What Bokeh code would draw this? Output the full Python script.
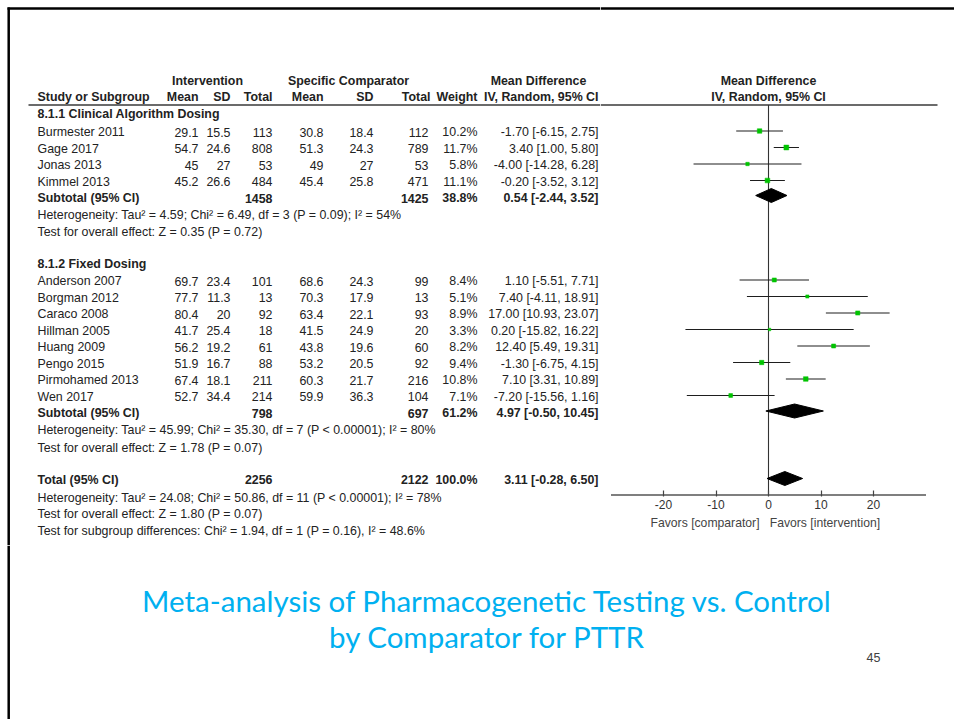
import math
from bokeh.plotting import figure
from bokeh.models import (Range1d, LinearAxis, FixedTicker, ColumnDataSource, Title,
                          CustomJSTickFormatter)
from bokeh.layouts import row, column
from bokeh.embed import file_html
from bokeh.resources import INLINE
from bokeh.core.properties import value

# ---------------- data ----------------
group1_title = "8.1.1 Clinical Algorithm Dosing"
studies1 = ["Burmester 2011", "Gage 2017", "Jonas 2013", "Kimmel 2013"]
int_mean1 = [29.1, 54.7, 45, 45.2]
int_sd1 = [15.5, 24.6, 27, 26.6]
int_n1 = [113, 808, 53, 484]
cmp_mean1 = [30.8, 51.3, 49, 45.4]
cmp_sd1 = [18.4, 24.3, 27, 25.8]
cmp_n1 = [112, 789, 53, 471]
weight1 = [10.2, 11.7, 5.8, 11.1]
md1 = [-1.70, 3.40, -4.00, -0.20]
lo1 = [-6.15, 1.00, -14.28, -3.52]
hi1 = [2.75, 5.80, 6.28, 3.12]
sub1 = dict(int_n=1458, cmp_n=1425, weight=38.8, md=0.54, lo=-2.44, hi=3.52)
het1 = "Heterogeneity: Tau\u00b2 = 4.59; Chi\u00b2 = 6.49, df = 3 (P = 0.09); I\u00b2 = 54%"
test1 = "Test for overall effect: Z = 0.35 (P = 0.72)"

group2_title = "8.1.2 Fixed Dosing"
studies2 = ["Anderson 2007", "Borgman 2012", "Caraco 2008", "Hillman 2005",
            "Huang 2009", "Pengo 2015", "Pirmohamed 2013", "Wen 2017"]
int_mean2 = [69.7, 77.7, 80.4, 41.7, 56.2, 51.9, 67.4, 52.7]
int_sd2 = [23.4, 11.3, 20, 25.4, 19.2, 16.7, 18.1, 34.4]
int_n2 = [101, 13, 92, 18, 61, 88, 211, 214]
cmp_mean2 = [68.6, 70.3, 63.4, 41.5, 43.8, 53.2, 60.3, 59.9]
cmp_sd2 = [24.3, 17.9, 22.1, 24.9, 19.6, 20.5, 21.7, 36.3]
cmp_n2 = [99, 13, 93, 20, 60, 92, 216, 104]
weight2 = [8.4, 5.1, 8.9, 3.3, 8.2, 9.4, 10.8, 7.1]
md2 = [1.10, 7.40, 17.00, 0.20, 12.40, -1.30, 7.10, -7.20]
lo2 = [-5.51, -4.11, 10.93, -15.82, 5.49, -6.75, 3.31, -15.56]
hi2 = [7.71, 18.91, 23.07, 16.22, 19.31, 4.15, 10.89, 1.16]
sub2 = dict(int_n=798, cmp_n=697, weight=61.2, md=4.97, lo=-0.50, hi=10.45)
het2 = "Heterogeneity: Tau\u00b2 = 45.99; Chi\u00b2 = 35.30, df = 7 (P < 0.00001); I\u00b2 = 80%"
test2 = "Test for overall effect: Z = 1.78 (P = 0.07)"

total = dict(int_n=2256, cmp_n=2122, weight=100.0, md=3.11, lo=-0.28, hi=6.50)
het_t = "Heterogeneity: Tau\u00b2 = 24.08; Chi\u00b2 = 50.86, df = 11 (P < 0.00001); I\u00b2 = 78%"
test_t = "Test for overall effect: Z = 1.80 (P = 0.07)"
test_sub = "Test for subgroup differences: Chi\u00b2 = 1.94, df = 1 (P = 0.16), I\u00b2 = 48.6%"

axis_ticks = [-20, -10, 0, 10, 20]
axis_min, axis_max = -30, 30
favors_left = "Favors [comparator]"
favors_right = "Favors [intervention]"
title_lines = ["Meta-analysis of Pharmacogenetic Testing vs. Control", "by Comparator for PTTR"]
page_number = "45"

# ---------------- style / layout ----------------
FONT = "Liberation Sans"
TXT = "#222222"
FS = "12.4px"
GREEN = "#00c400"
BLUE = "#00b0f0"

W, H = 954, 719
SPLIT_X = 600          # table | forest
SPLIT_Y = 545          # top | bottom
AXIS_Y = 496           # forest frame bottom

ROW_STEP = 16.5
G1_Y0 = 130.5
G2_Y0 = 279.5
TOTAL_Y = 478
TDY = 1.0

COL_STUDY = 37
COL_IM, COL_ISD, COL_IN = 198, 230, 272
COL_CM, COL_CSD, COL_CN = 323, 373, 428
COL_W, COL_CI = 477, 598

ZERO_PX = 768.0
PX_PER_UNIT = 5.25


def fmt(v):
    return f"{v:g}"


def ci(m, l, h):
    return f"{m:.2f} [{l:.2f}, {h:.2f}]"


def base_fig(w, h, xr, yr, mb=0):
    p = figure(width=w, height=h, x_range=xr, y_range=yr, x_axis_type=None, y_axis_type=None,
               output_backend="svg", toolbar_location=None, min_border=0,
               min_border_left=0, min_border_right=0, min_border_top=0,
               min_border_bottom=mb, frame_align=False)
    p.grid.visible = False
    p.outline_line_color = None
    return p


def add_text(p, xs, ys, texts, align, bold=False, size=FS, color=TXT, font=FONT, rn=None):
    src = ColumnDataSource(dict(x=list(xs), y=list(ys), text=list(texts)))
    kw = {"x_range_name": rn} if rn else {}
    p.text(x="x", y="y", text="text", source=src, text_align=align, text_baseline="middle",
           text_font=value(font), text_font_size=value(size),
           text_font_style="bold" if bold else "normal", text_color=color, **kw)


g1_y = [G1_Y0 + i * ROW_STEP for i in range(len(studies1))]
sub1_y = G1_Y0 + len(studies1) * ROW_STEP
g2_y = [G2_Y0 + i * ROW_STEP for i in range(len(studies2))]
sub2_y = G2_Y0 + len(studies2) * ROW_STEP

BORDER_W = 2.5
BORDER_X = 8.2
BORDER_Y = 7.9

# ---------------- table figure ----------------
tab = base_fig(SPLIT_X, SPLIT_Y, Range1d(0, SPLIT_X), Range1d(SPLIT_Y, 0))
tab.segment(x0=[BORDER_X, 7], x1=[BORDER_X, SPLIT_X], y0=[7, BORDER_Y], y1=[SPLIT_Y, BORDER_Y],
            line_color="black", line_width=BORDER_W)
tab.segment(x0=[28], x1=[SPLIT_X], y0=[104.5], y1=[104.5], line_color="#3a3a3a", line_width=1.3)

add_text(tab, [207, 348, 538], [80] * 3, ["Intervention", "Specific Comparator", "Mean Difference"], "center", bold=True)
add_text(tab, [COL_STUDY], [96], ["Study or Subgroup"], "left", bold=True)
add_text(tab, [COL_IM, COL_ISD, COL_IN, COL_CM, COL_CSD, COL_CN + 2, COL_W, COL_CI], [96] * 8,
         ["Mean", "SD", "Total", "Mean", "SD", "Total", "Weight", "IV, Random, 95% CI"], "right", bold=True)


def group_rows(title, title_y, names, ys, im, isd, inn, cm, csd, cn, w, m, l, h, sub, sub_y, het, test, het_y):
    add_text(tab, [COL_STUDY], [title_y], [title], "left", bold=True)
    ty = [y + TDY for y in ys]
    add_text(tab, [COL_STUDY] * len(names), ty, names, "left")
    for col, vals in [(COL_IM, im), (COL_ISD, isd), (COL_IN, inn), (COL_CM, cm), (COL_CSD, csd), (COL_CN, cn)]:
        add_text(tab, [col] * len(vals), ty, [fmt(v) for v in vals], "right")
    add_text(tab, [COL_W] * len(w), ty, [f"{v:.1f}%" for v in w], "right")
    add_text(tab, [COL_CI] * len(m), ty, [ci(a, b, c) for a, b, c in zip(m, l, h)], "right")
    sy = sub_y + TDY
    add_text(tab, [COL_STUDY], [sy], ["Subtotal (95% CI)"], "left", bold=True)
    add_text(tab, [COL_IN, COL_CN, COL_W, COL_CI], [sy] * 4,
             [str(sub["int_n"]), str(sub["cmp_n"]), f"{sub['weight']:.1f}%", ci(sub["md"], sub["lo"], sub["hi"])],
             "right", bold=True)
    add_text(tab, [COL_STUDY, COL_STUDY], het_y, [het, test], "left")


group_rows(group1_title, 113, studies1, g1_y, int_mean1, int_sd1, int_n1, cmp_mean1, cmp_sd1, cmp_n1,
           weight1, md1, lo1, hi1, sub1, sub1_y, het1, test1, [214, 231])
group_rows(group2_title, 263, studies2, g2_y, int_mean2, int_sd2, int_n2, cmp_mean2, cmp_sd2, cmp_n2,
           weight2, md2, lo2, hi2, sub2, sub2_y, het2, test2, [429.5, 447])

add_text(tab, [COL_STUDY], [TOTAL_Y + TDY], ["Total (95% CI)"], "left", bold=True)
add_text(tab, [COL_IN, COL_CN, COL_W, COL_CI], [TOTAL_Y + TDY] * 4,
         [str(total["int_n"]), str(total["cmp_n"]), f"{total['weight']:.1f}%", ci(total["md"], total["lo"], total["hi"])],
         "right", bold=True)
add_text(tab, [COL_STUDY] * 3, [497, 513.5, 530], [het_t, test_t, test_sub], "left")

# ---------------- forest figure ----------------
fp = base_fig(W - SPLIT_X, SPLIT_Y, Range1d(SPLIT_X, W), Range1d(AXIS_Y, 0), mb=SPLIT_Y - AXIS_Y)
fp.extra_x_ranges = {"md": Range1d((SPLIT_X - ZERO_PX) / PX_PER_UNIT, (W - ZERO_PX) / PX_PER_UNIT)}
fp.segment(x0=[SPLIT_X], x1=[W], y0=[BORDER_Y], y1=[BORDER_Y], line_color="black", line_width=BORDER_W)
fp.segment(x0=[SPLIT_X], x1=[937], y0=[104.5], y1=[104.5], line_color="#3a3a3a", line_width=1.3)
add_text(fp, [0, 0], [80, 96], ["Mean Difference", "IV, Random, 95% CI"], "center", bold=True, rn="md")

fp.segment(x0=[0], x1=[0], y0=[104.5], y1=[494.5], x_range_name="md", line_color="#333333", line_width=1.1)
fp.segment(x0=[axis_min], x1=[axis_max], y0=[494.5], y1=[494.5], x_range_name="md",
           line_color="#555555", line_width=1.5)

all_y = g1_y + g2_y
all_w = weight1 + weight2
fsrc = ColumnDataSource(dict(md=md1 + md2, lo=lo1 + lo2, hi=hi1 + hi2, y=all_y,
                             size=[1.42 * math.sqrt(w) for w in all_w]))
fp.segment(x0="lo", x1="hi", y0="y", y1="y", source=fsrc, x_range_name="md", line_color="#1e1e1e", line_width=1.1)
fp.scatter(x="md", y="y", size="size", marker="square", source=fsrc, x_range_name="md",
           fill_color=GREEN, line_color=GREEN, line_width=0.5)

dia = [sub1, sub2, total]
dia_y = [sub1_y - 1.5, sub2_y - 1.0, TOTAL_Y]
HALF = 7
fp.patches(xs=[[d["lo"], d["md"], d["hi"], d["md"]] for d in dia],
           ys=[[y, y - HALF, y, y + HALF] for y in dia_y],
           x_range_name="md", fill_color="black", line_color="black", line_width=1)

ax = LinearAxis(x_range_name="md", ticker=FixedTicker(ticks=axis_ticks),
                formatter=CustomJSTickFormatter(code="return tick.toString()"))
ax.axis_line_color = None
ax.major_tick_line_color = "#444444"
ax.major_tick_line_width = 1.2
ax.major_tick_in = 6
ax.major_tick_out = 0
ax.minor_tick_line_color = None
ax.major_label_text_font = FONT
ax.major_label_text_font_size = "12px"
ax.major_label_text_color = "#333333"
ax.major_label_standoff = 3
fp.add_layout(ax, "below")

fav = Title(text=favors_left + "\u00a0\u00a0\u00a0" + favors_right, align="left", offset=650 - SPLIT_X,
            text_font=FONT, text_font_size="12.2px", text_font_style="normal", text_color="#444444",
            standoff=5)
fp.add_layout(fav, "below")

# ---------------- bottom figure ----------------
bt = base_fig(W, H - SPLIT_Y, Range1d(0, W), Range1d(H, SPLIT_Y))
bt.segment(x0=[BORDER_X], x1=[BORDER_X], y0=[SPLIT_Y], y1=[H], line_color="black", line_width=BORDER_W)
add_text(bt, [487, 487], [600, 635.5], title_lines, "center", size="29.5px", color=BLUE, font="Lato")
add_text(bt, [873], [657], [page_number], "center", size="12.5px", color="#404040")

layout = column(row(tab, fp), bt)
open("out.html", "w").write(file_html(layout, INLINE))
